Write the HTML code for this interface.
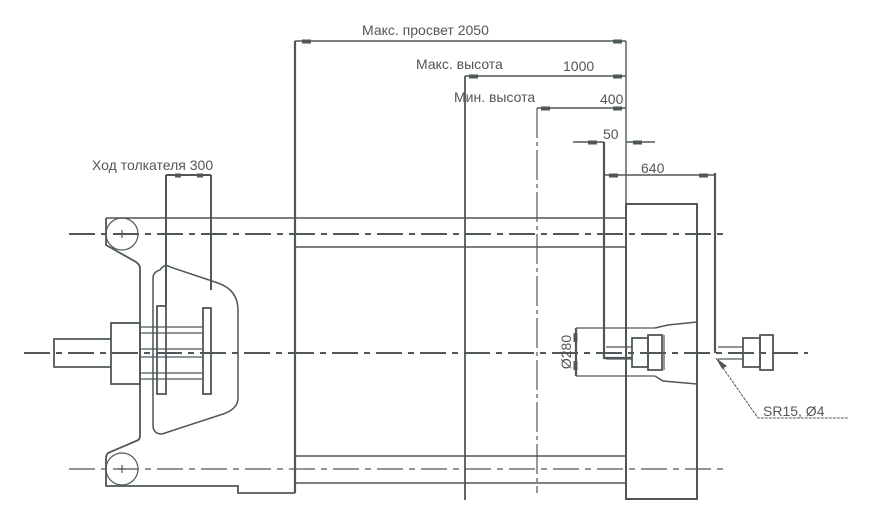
<!DOCTYPE html>
<html><head><meta charset="utf-8"><style>
html,body{margin:0;padding:0;background:#fff;}
svg{display:block}
text{font-family:"Liberation Sans",sans-serif;fill:#555;font-size:14px}
</style></head><body>
<svg width="875" height="525" viewBox="0 0 875 525" xmlns="http://www.w3.org/2000/svg">
<g stroke="#4f575a" fill="none" stroke-width="1.2">
<path d="M69 234H726" stroke-width="2" stroke-dasharray="26 6 6 6"/>
<path d="M24 353H808" stroke-width="2" stroke-dasharray="26 6 6 6"/>
<path d="M69 469H726" stroke-width="1.2" stroke-dasharray="26 6 6 6"/>
<path d="M106 218H626M295 247H626M295 456H626M295 483H626" stroke-width="1.4"/>
<path d="M295 41V493" stroke-width="2.2"/>
<path d="M465 76V500" stroke-width="1.8"/>
<path d="M537 108V493" stroke-dasharray="30 4 4 4"/>
<path d="M626 41V499" stroke-width="1.4"/>
<path d="M604 142V358H632" stroke-width="2.2"/>
<path d="M715 173V353" stroke-width="2.2"/>
<rect x="626" y="204" width="71" height="295" stroke-width="2"/>
<path d="M295 41H626M465 76H626M537 108H626M573 142H604M626 142H655M604 175H715" stroke-width="1.5"/>
<g fill="#4f575a" stroke="none">
<rect x="302" y="39.5" width="9" height="4"/><rect x="613" y="39.5" width="9" height="4"/>
<rect x="469" y="74.5" width="9" height="4"/><rect x="613" y="74.5" width="9" height="4"/>
<rect x="541" y="106.5" width="9" height="4"/><rect x="613" y="106.5" width="9" height="4"/>
<rect x="588" y="140.5" width="9" height="4"/><rect x="633" y="140.5" width="9" height="4"/>
<rect x="609" y="173.5" width="9" height="4"/><rect x="699" y="173.5" width="9" height="4"/>
<rect x="175" y="173.5" width="6" height="4"/><rect x="197" y="173.5" width="6" height="4"/>
<rect x="573.5" y="333" width="4" height="9"/><rect x="573.5" y="361" width="4" height="9"/>
<path d="M716 358L727 366L722 369Z"/>
</g>
<circle cx="122" cy="234" r="16"/>
<circle cx="122" cy="469" r="16"/>
<path d="M118 234h8M122 230v8M118 469h8M122 465v8"/>
<path d="M106 218V245L136 262Q140 265 140 268V436Q140 440 136 441L108 453Q106 455 106 458V486H238V493H295" stroke-width="1.8"/>
<path d="M166 175V306M211 175V290M166 175H211" stroke-width="2"/>
<path d="M160 270Q165 263 170 267L218 283Q238 290 238 310V398Q238 410 220 415L162 434Q153 434 153 425V278Q153 272 160 270Z" stroke-width="1.5"/>
<rect x="157" y="306" width="9" height="88" stroke-width="1.8"/>
<rect x="203" y="308" width="8" height="86" stroke-width="1.8"/>
<path d="M140 327H203M140 333H203M140 373H203M140 379H203M140 349H203M140 357H203"/>
<rect x="111" y="323" width="29" height="61" stroke-width="1.8"/>
<path d="M111 339H54V367H111" stroke-width="1.8"/>
<path d="M576 328V376" stroke-width="2.2"/>
<path d="M576 328H655M576 376H655"/>
<path d="M655 328L668 325L697 322M655 376L663 381L697 384" stroke-width="1.5"/>
<path d="M606 347H632M606 359H632"/>
<rect x="632" y="338" width="16" height="29" stroke-width="1.8"/>
<rect x="648" y="335" width="14" height="35" stroke-width="1.8"/>
<path d="M664 335V370"/>
<path d="M718 347H743M718 359H743"/>
<rect x="743" y="338" width="17" height="29" stroke-width="1.8"/>
<rect x="760" y="335" width="13" height="35" stroke-width="1.8"/>
<path d="M716 358L758 418H848" stroke-width="1" stroke-dasharray="3 1"/>
</g>
<text x="362" y="35">Макс. просвет  2050</text>
<text x="416" y="69">Макс. высота</text>
<text x="563" y="71">1000</text>
<text x="454" y="102">Мин. высота</text>
<text x="600" y="104">400</text>
<text x="603" y="139">50</text>
<text x="641" y="173">640</text>
<text x="92" y="170">Ход толкателя 300</text>
<text x="763" y="416">SR15, Ø4</text>
<text transform="translate(571,352) rotate(-90)" text-anchor="middle">Ø280</text>
</svg>
</body></html>
